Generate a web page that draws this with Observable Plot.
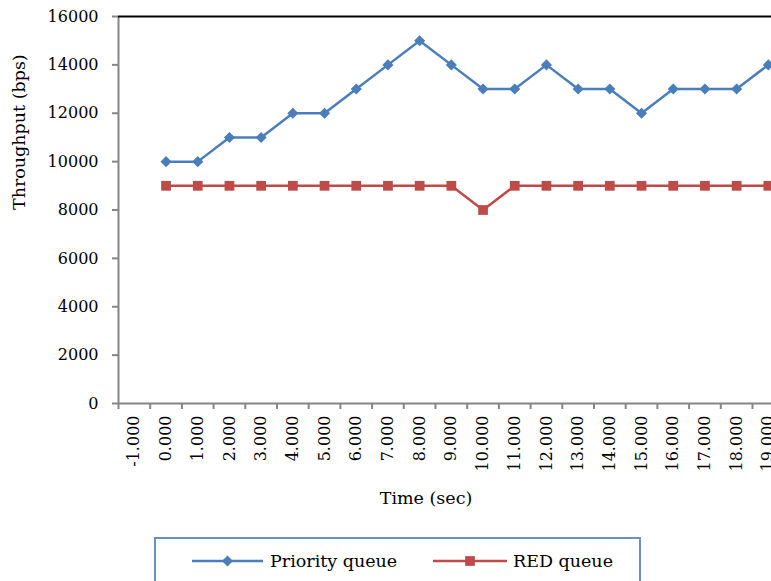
<!DOCTYPE html>
<html>
<head>
<meta charset="utf-8">
<script src="https://cdn.jsdelivr.net/npm/d3@7"></script>
<script src="https://cdn.jsdelivr.net/npm/@observablehq/plot@0.6"></script>
<style>
  html, body { margin: 0; padding: 0; background: #fff; overflow: hidden; width: 771px; height: 581px; }
  #wrap { position: relative; width: 771px; height: 581px; }
  #legend { position: absolute; left: 154px; top: 537px; width: 483px; height: 60px;
            border: 2px solid #6a91c6; box-sizing: content-box; background: #fff; }
  #legend svg { display: block; }
</style>
</head>
<body>
<div id="wrap"></div>
<script>
const FONT = "DejaVu Serif";
const times = [0,1,2,3,4,5,6,7,8,9,10,11,12,13,14,15,16,17,18,19];
const priorityQueue = [10000,10000,11000,11000,12000,12000,13000,14000,15000,14000,13000,13000,14000,13000,13000,12000,13000,13000,13000,14000];
const redQueue = [9000,9000,9000,9000,9000,9000,9000,9000,9000,9000,8000,9000,9000,9000,9000,9000,9000,9000,9000,9000];
const categoryLabels = [-1,0,1,2,3,4,5,6,7,8,9,10,11,12,13,14,15,16,17,18,19];
const yTicks = [0,2000,4000,6000,8000,10000,12000,14000,16000];
const categoryBounds = categoryLabels.map(c => c - 0.5);

const blue = "#4a7ebb";
const red = "#be4b48";
const axisGray = "#868686";

const pq = times.map((t, i) => ({t, v: priorityQueue[i]}));
const rq = times.map((t, i) => ({t, v: redQueue[i]}));

const chart = Plot.plot({
  width: 771,
  height: 525,
  marginLeft: 118,
  marginRight: 0,
  marginTop: 16,
  marginBottom: 122,
  style: {fontFamily: FONT, fontSize: "16px", color: "#000", background: "#fff"},
  x: {type: "linear", domain: [-1.5, 19.1]},
  y: {domain: [0, 16000]},
  marks: [
    Plot.axisX({ticks: categoryBounds, tickFormat: () => "", tickSize: 6, stroke: axisGray, strokeWidth: 2, label: null}),
    Plot.axisX({ticks: categoryLabels, tickFormat: d => d.toFixed(3), tickSize: 0, tickPadding: 12, tickRotate: -90,
                fontSize: 16, fill: "#000", label: null}),
    Plot.axisY({ticks: yTicks, tickSize: 6, tickPadding: 14, stroke: axisGray, strokeWidth: 2, fontSize: 16, fill: "#000", label: null, tickFormat: d => String(d)}),
    Plot.ruleY([0], {x1: -1.5, x2: 19.1, stroke: axisGray, strokeWidth: 2}),
    Plot.ruleX([-1.5], {y1: 0, y2: 16000, stroke: axisGray, strokeWidth: 2}),
    Plot.ruleY([16000], {x1: -1.5, x2: 19.1, stroke: "#000", strokeWidth: 2}),
    Plot.lineY(pq, {x: "t", y: "v", stroke: blue, strokeWidth: 2.5}),
    Plot.dot(pq, {x: "t", y: "v", symbol: "diamond2", r: 5, fill: blue, stroke: "none"}),
    Plot.lineY(rq, {x: "t", y: "v", stroke: red, strokeWidth: 2.5}),
    Plot.dot(rq, {x: "t", y: "v", symbol: "square", r: 5.5, fill: red, stroke: "none"}),
    Plot.text(["Time (sec)"], {frameAnchor: "bottom", text: d => d, dx: -19, dy: 100, fontSize: 17.5, fill: "#000"}),
    Plot.text(["Throughput (bps)"], {frameAnchor: "left", text: d => d, dx: -99, rotate: -90, fontSize: 17.5, fill: "#000"})
  ]
});
document.getElementById("wrap").appendChild(chart);

const legend = document.createElement("div");
legend.id = "legend";
document.getElementById("wrap").appendChild(legend);
const items = [
  {name: "Priority queue", color: blue, symbol: d3.symbolDiamond2, x0: 36, x1: 107, tx: 114},
  {name: "RED queue", color: red, symbol: d3.symbolSquare, x0: 277, x1: 351, tx: 357}
];
const svg = d3.select(legend).append("svg").attr("width", 483).attr("height", 60);
for (const it of items) {
  const g = svg.append("g");
  const cy = 22;
  g.append("line").attr("x1", it.x0).attr("x2", it.x1).attr("y1", cy).attr("y2", cy)
    .attr("stroke", it.color).attr("stroke-width", 2.5);
  const size = it.symbol === d3.symbolSquare ? Math.PI * 5.5 * 5.5 : Math.PI * 5 * 5;
  g.append("path").attr("d", d3.symbol(it.symbol, size)()).attr("transform", `translate(${(it.x0 + it.x1) / 2},${cy})`)
    .attr("fill", it.color);
  g.append("text").attr("x", it.tx).attr("y", cy).attr("dy", "0.35em")
    .attr("font-family", FONT).attr("font-size", 17.5).attr("fill", "#000").text(it.name);
}
</script>
</body>
</html>
